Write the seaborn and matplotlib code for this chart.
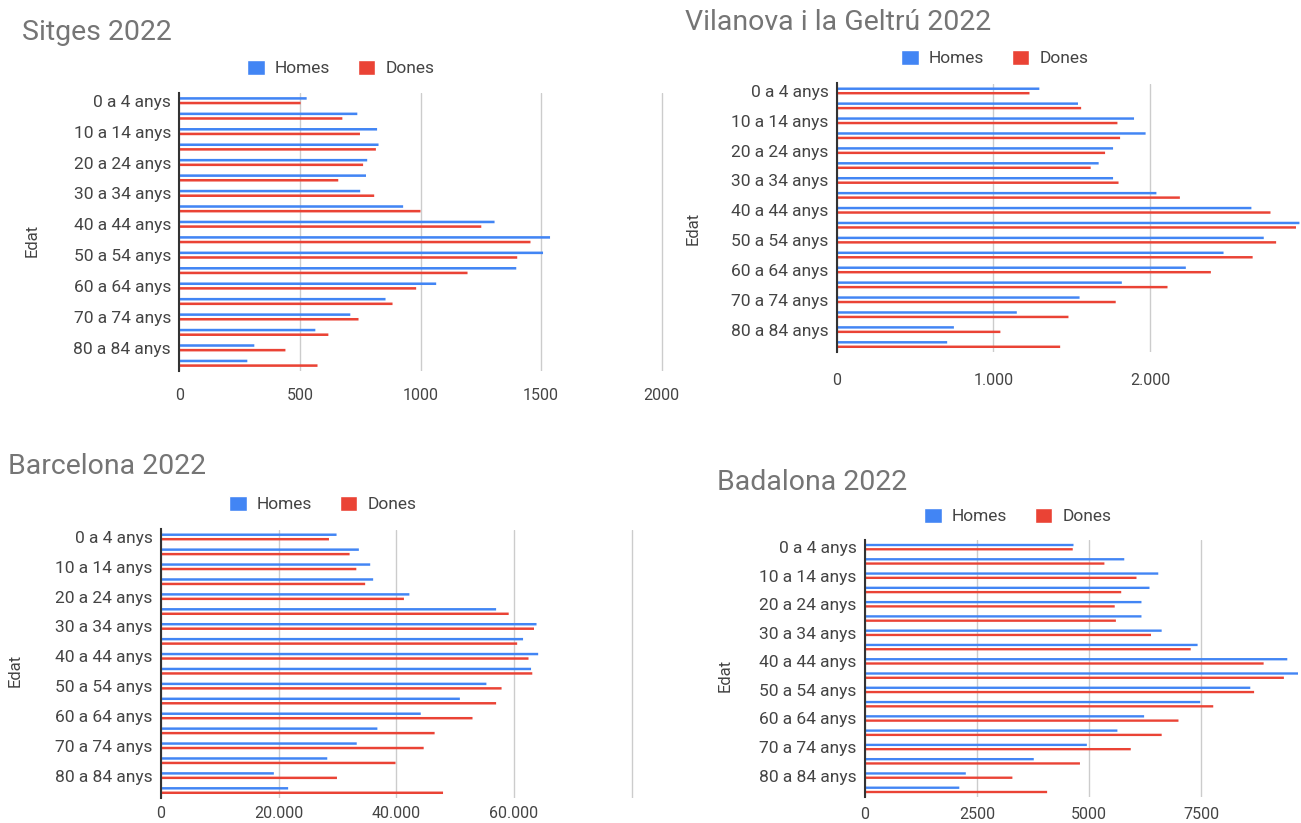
import pandas as pd
import seaborn as sns
import matplotlib.pyplot as plt

sns.set_theme(style="white")
plt.rcParams['font.family'] = ['Roboto', 'DejaVu Sans']

edats = ["0 a 4 anys", "5 a 9 anys", "10 a 14 anys", "15 a 19 anys", "20 a 24 anys",
         "25 a 29 anys", "30 a 34 anys", "35 a 39 anys", "40 a 44 anys", "45 a 49 anys",
         "50 a 54 anys", "55 a 59 anys", "60 a 64 anys", "65 a 69 anys", "70 a 74 anys",
         "75 a 79 anys", "80 a 84 anys", "85 anys i més"]

sitges_homes = [528, 738, 820, 826, 779, 774, 750, 928, 1307, 1537, 1508, 1397, 1065, 855, 709, 564, 311, 282]
sitges_dones = [503, 676, 749, 815, 762, 659, 808, 1000, 1252, 1456, 1401, 1195, 982, 884, 743, 618, 440, 573]

vilanova_homes = [1293, 1540, 1898, 1972, 1764, 1672, 1764, 2041, 2648, 2955, 2727, 2470, 2229, 1820, 1550, 1149, 747, 704]
vilanova_dones = [1230, 1560, 1792, 1809, 1713, 1621, 1799, 2191, 2770, 2933, 2806, 2656, 2389, 2112, 1781, 1479, 1044, 1426]

barcelona_homes = [29840, 33630, 35560, 36060, 42220, 56960, 63830, 61540, 64110, 62900, 55310, 50800, 44150, 36780, 33270, 28260, 19180, 21610]
barcelona_dones = [28550, 32060, 33200, 34700, 41290, 59100, 63400, 60540, 62470, 63110, 57890, 56960, 52950, 46510, 44650, 39860, 29910, 47940]

badalona_homes = [4654, 5787, 6546, 6350, 6171, 6171, 6622, 7424, 9426, 9665, 8600, 7483, 6230, 5634, 4952, 3767, 2250, 2105]
badalona_dones = [4637, 5344, 6060, 5719, 5574, 5600, 6384, 7270, 8898, 9350, 8685, 7773, 6997, 6622, 5932, 4798, 3290, 4065]

colors = {"Homes": "#4285F4", "Dones": "#EA4335"}

W, H = 1301, 823
fig = plt.figure(figsize=(W / 100, H / 100), dpi=100)


def dots(x):
    return f"{x:,.0f}".replace(",", ".")


def panel(title, homes, dones, box, xmax, ticks, ticklabels, title_xy, legend_xy, edat_xy, xpad):
    left, right, top, bottom = box
    ax = fig.add_axes([left / W, (H - bottom) / H, (right - left) / W, (bottom - top) / H])
    df = pd.DataFrame({
        "Edat": edats * 2,
        "Població": homes + dones,
        "Sexe": ["Homes"] * len(edats) + ["Dones"] * len(edats),
    })
    sns.barplot(data=df, y="Edat", x="Població", hue="Sexe", orient="h",
                palette=colors, width=0.6, gap=0.45, ax=ax, saturation=1)
    for p in ax.patches:
        p.set_linewidth(0)
        p.set_snap(False)
    ax.set_xlim(0, xmax)
    ax.set_xticks(ticks)
    ax.set_xticklabels(ticklabels)
    ax.set_yticks(range(len(edats)))
    ax.set_yticklabels([e if i % 2 == 0 else "" for i, e in enumerate(edats)])
    ax.set_xlabel("")
    ax.set_ylabel("")
    ax.grid(axis="x", color="#cccccc", linewidth=1)
    ax.set_axisbelow(True)
    for s in ["top", "right", "bottom"]:
        ax.spines[s].set_visible(False)
    ax.spines["left"].set_color("#333333")
    ax.spines["left"].set_linewidth(1.5)
    ax.tick_params(axis="both", length=0, colors="#444444")
    ax.tick_params(axis="x", pad=xpad, labelsize=11.5)
    ax.tick_params(axis="y", pad=6, labelsize=12.5)

    sns.move_legend(ax, "center", bbox_to_anchor=(legend_xy[0] / W, 1 - legend_xy[1] / H),
                    bbox_transform=fig.transFigure, ncol=2, frameon=False, title=None,
                    fontsize=12.5, handlelength=1.0, handleheight=1.0, columnspacing=1.6,
                    handletextpad=0.6)
    for t in ax.get_legend().get_texts():
        t.set_color("#444444")

    fig.text(title_xy[0] / W, 1 - title_xy[1] / H, title, fontsize=20.5, color="#757575",
             ha="left", va="center")
    fig.text(edat_xy[0] / W, 1 - edat_xy[1] / H, "Edat", fontsize=12, color="#444444",
             rotation=90, ha="center", va="center")
    return ax


sitges_ticks = [0, 500, 1000, 1500, 2000]
vilanova_ticks = [0, 1000, 2000]
barcelona_ticks = [0, 20000, 40000, 60000, 80000]
badalona_ticks = [0, 2500, 5000, 7500]

panel("Sitges 2022", sitges_homes, sitges_dones, (179.3, 681, 93, 371), 2080,
      sitges_ticks, [str(t) for t in sitges_ticks], (22, 32), (341, 68), (32, 240), 12)
panel("Vilanova i la Geltrú 2022", vilanova_homes, vilanova_dones, (837, 1301, 83.5, 352), 2965,
      vilanova_ticks, [dots(t) for t in vilanova_ticks], (685, 22), (995, 58), (693, 228), 15)
panel("Barcelona 2022", barcelona_homes, barcelona_dones, (161, 634, 529.5, 798), 80400,
      barcelona_ticks, [dots(t) for t in barcelona_ticks[:-1]] + [""], (8, 467), (323, 504), (15, 670), 6)
panel("Badalona 2022", badalona_homes, badalona_dones, (865, 1301, 540, 797), 9732,
      badalona_ticks, [str(t) for t in badalona_ticks], (717, 482), (1018, 516), (725, 675), 7)

fig.savefig("out.png", dpi=100)
